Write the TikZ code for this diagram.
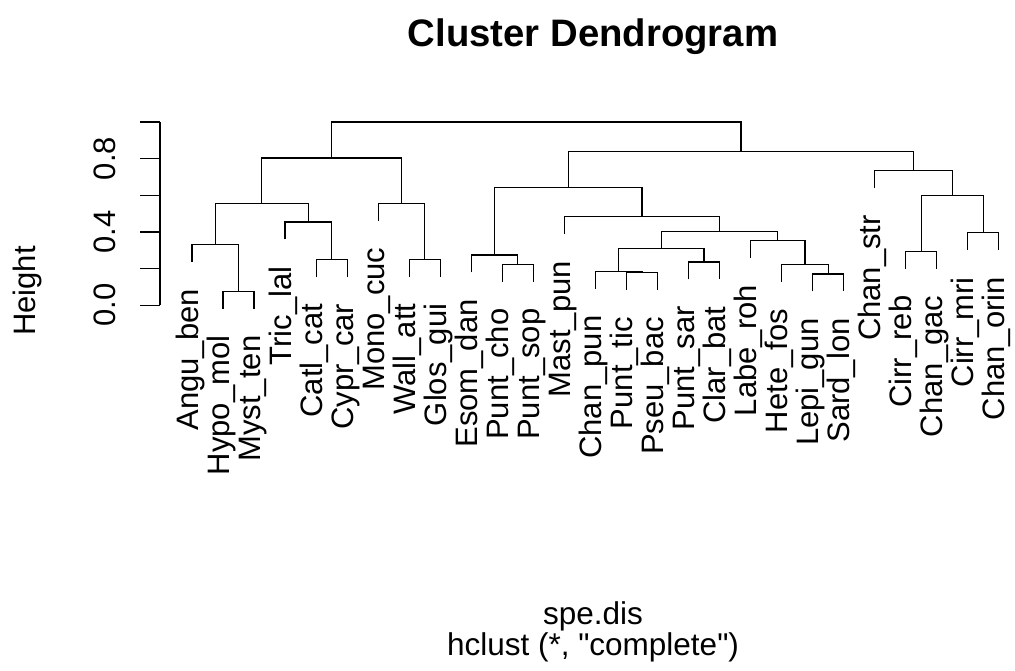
\documentclass[tikz,border=0pt]{standalone}
\usepackage{fontspec}
\setmainfont{Liberation Sans}
% straight double quote, taken by glyph so the TeX mapping leaves it alone
\newcommand\dquote{\XeTeXglyph\XeTeXcharglyph34\relax}
\begin{document}
\begin{tikzpicture}[x=1pt,y=-1pt,
  branch/.style={line width=1.2pt,black},
  leaflab/.style={rotate=90,anchor=base east,inner sep=0pt,outer sep=0pt,
    font=\fontsize{31}{31}\selectfont},
  ticklab/.style={rotate=90,anchor=base,inner sep=0pt,
    font=\fontsize{31}{31}\selectfont},
  plaintext/.style={anchor=base,inner sep=0pt,font=\fontsize{31.5}{31.5}\selectfont}]
\useasboundingbox (0,0) rectangle (1015,671);

% title and captions
\node[anchor=base,inner sep=0pt,font=\fontsize{38.3}{38.3}\selectfont\bfseries]
  (title) at (593,47) {Cluster Dendrogram};
\node[plaintext] (xlab) at (593,624) {spe.dis};
\node[plaintext] (sub) at (593,655) {hclust (*, \dquote complete\dquote)};
\node[ticklab] (ylab) at (35,291) {Height};

% height axis
\draw[branch] (160,122) -- (160,305.3);
\foreach \k in {0,...,5}
  \draw[branch] (140,{305.3-\k*36.66}) -- (160,{305.3-\k*36.66});
\foreach \k/\t in {0/0.0,2/0.4,4/0.8}
  \node[ticklab] (tick\k) at (115,{305.3-\k*36.66}) {\t};

% leaves: index / label / lower end of the leaf line
\foreach \i/\name/\b in {
  1/Angu\_ben/262.1, 2/Hypo\_mol/308.7, 3/Myst\_ten/308.7,
  4/Tric\_lal/239.4, 5/Catl\_cat/276.7, 6/Cypr\_car/276.7,
  7/Mono\_cuc/220.7, 8/Wall\_att/276.7, 9/Glos\_gui/276.7,
  10/Esom\_dan/272.4, 11/Punt\_cho/281.7, 12/Punt\_sop/281.7,
  13/Mast\_pun/234.1, 14/Chan\_pun/288.7, 15/Punt\_tic/290.1,
  16/Pseu\_bac/290.1, 17/Punt\_sar/279.4, 18/Clar\_bat/279.4,
  19/Labe\_roh/258.1, 20/Hete\_fos/282.1, 21/Lepi\_gun/291.4,
  22/Sard\_lon/291.4, 23/Chan\_str/188.1, 24/Cirr\_reb/268.7,
  25/Chan\_gac/268.7, 26/Cirr\_mri/250.1, 27/Chan\_orin/250.1}{
  \pgfmathsetmacro\xx{192+(\i-1)*31.03}
  \coordinate (l\i) at (\xx,\b);
  \node[leaflab] (t\i) at (\xx+6,\b+27) {\name};
}

% merge points
\coordinate (mA) at (238.55,291.3);
\coordinate (mB) at (215.3,244.7);
\coordinate (mC) at (331.65,259.3);
\coordinate (mD) at (308.4,222);
\coordinate (mE) at (261.8,203.3);
\coordinate (mF) at (424.7,259.3);
\coordinate (mG) at (401.5,203.3);
\coordinate (mH) at (331.6,158);
\coordinate (mI) at (517.8,264.3);
\coordinate (mJ) at (494.6,255);
\coordinate (mK) at (641.95,272.7);
\coordinate (mL) at (618.7,271.3);
\coordinate (mM) at (704.0,262);
\coordinate (mN) at (661.3,248.7);
\coordinate (mO) at (828.15,274);
\coordinate (mP) at (804.9,264.7);
\coordinate (mQ) at (777.7,240.7);
\coordinate (mR) at (719.5,231.3);
\coordinate (mS) at (641.9,216.7);
\coordinate (mT) at (568.3,187.3);
\coordinate (mU) at (921.25,251.3);
\coordinate (mV) at (983.3,232.7);
\coordinate (mW) at (952.3,195.3);
\coordinate (mX) at (913.5,170.7);
\coordinate (mY) at (740.9,151.3);
\coordinate (mZ) at (536.2,122);

% branches
\draw[branch] (l2) |- (mA) -| (l3);
\draw[branch] (l1) |- (mB) -| (mA);
\draw[branch] (l5) |- (mC) -| (l6);
\draw[branch] (l4) |- (mD) -| (mC);
\draw[branch] (mB) |- (mE) -| (mD);
\draw[branch] (l8) |- (mF) -| (l9);
\draw[branch] (l7) |- (mG) -| (mF);
\draw[branch] (mE) |- (mH) -| (mG);
\draw[branch] (l11) |- (mI) -| (l12);
\draw[branch] (l10) |- (mJ) -| (mI);
\draw[branch] (l15) |- (mK) -| (l16);
\draw[branch] (l14) |- (mL) -| (mK);
\draw[branch] (l17) |- (mM) -| (l18);
\draw[branch] (mL) |- (mN) -| (mM);
\draw[branch] (l21) |- (mO) -| (l22);
\draw[branch] (l20) |- (mP) -| (mO);
\draw[branch] (l19) |- (mQ) -| (mP);
\draw[branch] (mN) |- (mR) -| (mQ);
\draw[branch] (l13) |- (mS) -| (mR);
\draw[branch] (mJ) |- (mT) -| (mS);
\draw[branch] (l24) |- (mU) -| (l25);
\draw[branch] (l26) |- (mV) -| (l27);
\draw[branch] (mU) |- (mW) -| (mV);
\draw[branch] (l23) |- (mX) -| (mW);
\draw[branch] (mT) |- (mY) -| (mX);
\draw[branch] (mH) |- (mZ) -| (mY);
\end{tikzpicture}
\end{document}
